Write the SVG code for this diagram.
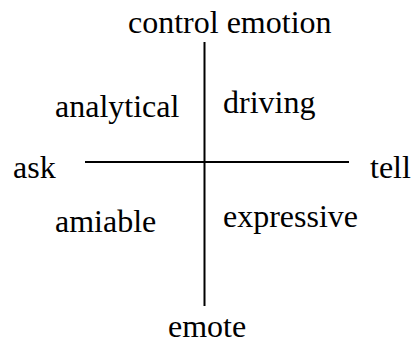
<svg xmlns="http://www.w3.org/2000/svg" width="414" height="341" viewBox="0 0 414 341">
<style>
text{font-family:"Liberation Serif","Times New Roman",serif;font-size:32px;fill:#000}
.ax{stroke:#000;stroke-width:2;fill:none}
</style>
<rect width="414" height="341" fill="#fff"/>
<g id="connectors">
<line class="ax" x1="204.5" y1="42" x2="204.5" y2="306"/>
<line class="ax" x1="85" y1="162" x2="349" y2="162"/>
</g>
<g id="top"><text x="128" y="33">control emotion</text></g>
<g id="bottom"><text x="168" y="337">emote</text></g>
<g id="left"><text x="13" y="178">ask</text></g>
<g id="right"><text x="370" y="178">tell</text></g>
<g id="analytical"><text x="55" y="117">analytical</text></g>
<g id="driving"><text x="223" y="113">driving</text></g>
<g id="amiable"><text x="55" y="232">amiable</text></g>
<g id="expressive"><text x="223" y="227">expressive</text></g>
</svg>
